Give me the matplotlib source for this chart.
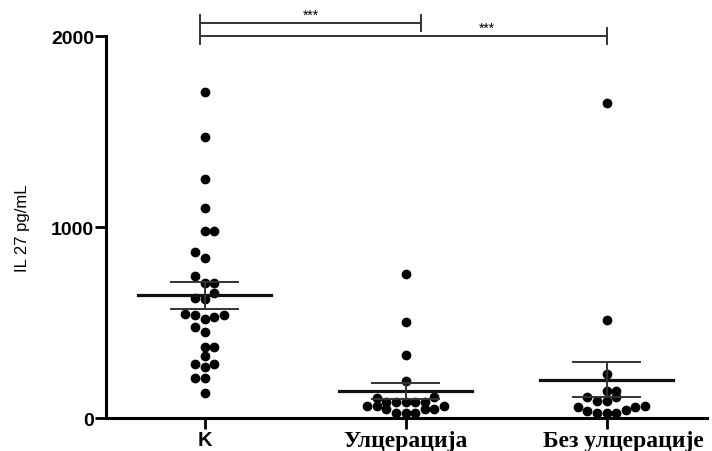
import numpy as np
import matplotlib.pyplot as plt

# категорије и тачке очитане са слике
groups = ["K", "Улцерација", "Без улцерације"]

k_vals = [1705, 1470, 1251, 1098, 981, 981, 867, 838, 745, 705, 705, 653,
          628, 623, 545, 539, 518, 527, 541, 475, 449, 370, 370, 326,
          283, 283, 265, 209, 209, 131]
k_off = [0, 0, 0, 0, 0, 1, -1, 0, -1, 0, 1, 1,
         -1, 0, -2, -1, 0, 1, 2, -1, 0, 0, 1, 0,
         -1, 1, 0, -1, 0, 0]

ulc_vals = [754, 504, 330, 195, 103, 112, 85, 85, 85, 85, 85,
            64, 64, 64, 47, 47, 47, 26, 26, 26]
ulc_off = [0, 0, 0, 0, -3, 3, -2, -1, 0, 1, 2,
           -4, -3, 4, -2, 2, 3, -1, 0, 1]

bez_vals = [1649, 515, 230, 143, 143, 110, 110, 91, 91, 59, 38,
            26, 26, 26, 40, 56, 64]
bez_off = [0, 0, 0, 0, 1, -2, 1, -1, 0, -3, -2,
           -1, 0, 1, 2, 3, 4]

means = [642, 140, 201]
sems = [69, 43, 93]

all_vals = [k_vals, ulc_vals, bez_vals]
all_off = [k_off, ulc_off, bez_off]

fig = plt.figure(figsize=(7.12, 4.52), dpi=100)
ax = fig.add_axes([0.149, 0.073, 0.844, 0.845])

dx = 0.048
for i, (vals, offs) in enumerate(zip(all_vals, all_off)):
    xs = i + np.array(offs) * dx
    ax.plot(xs, vals, 'o', color='black', markersize=6, zorder=3)
    # средња вредност и SEM
    ax.plot([i - 0.33, i + 0.33], [means[i], means[i]], color='#111111', lw=2.3, zorder=4)
    ax.plot([i, i], [means[i] - sems[i], means[i] + sems[i]], color='#333333', lw=1.4, zorder=4)
    for yy in (means[i] - sems[i], means[i] + sems[i]):
        ax.plot([i - 0.165, i + 0.165], [yy, yy], color='#333333', lw=1.4, zorder=4)

ax.set_xlim(-0.49, 2.5)
ax.set_ylim(0, 2000)
ax.set_yticks([0, 1000, 2000])
ax.set_yticklabels(["0", "1000", "2000"], fontweight='bold', fontsize=14,
                   family='Liberation Sans')
ax.set_xticks([0, 1, 2])
# трећа ознака је у оригиналу мало померена удесно, па иде као посебан текст
ax.set_xticklabels([groups[0], groups[1], ""], fontweight='bold', fontsize=17,
                   family='Liberation Serif')
xl = ax.get_xticklabels()
xl[0].set_family('Liberation Sans')
xl[0].set_fontsize(14.5)
ax.annotate(groups[2], xy=(2, 0), xycoords=('data', 'axes fraction'),
            xytext=(12, -8.5), textcoords='offset points', ha='center', va='top',
            fontweight='bold', fontsize=17, family='Liberation Serif',
            annotation_clip=False)
ax.set_ylabel("IL 27 pg/mL", fontsize=12, family='Liberation Sans', labelpad=15)

for s in ['top', 'right']:
    ax.spines[s].set_visible(False)
for s in ['left', 'bottom']:
    ax.spines[s].set_linewidth(2.2)
ax.tick_params(axis='both', width=2, length=8, direction='out', pad=0.5)

# линије значајности
bc = '#333333'
ax.plot([-0.025, 1.075], [2068, 2068], color=bc, lw=1.4, clip_on=False)
ax.plot([-0.025, 2.0], [2000, 2000], color=bc, lw=1.4, clip_on=False)
ax.plot([-0.025, -0.025], [1958, 2110], color=bc, lw=1.4, clip_on=False)
ax.plot([1.075, 1.075], [2026, 2110], color=bc, lw=1.4, clip_on=False)
ax.plot([2.0, 2.0], [1958, 2040], color=bc, lw=1.4, clip_on=False)
ax.text(0.53, 2074, "***", ha='center', va='bottom', fontsize=10, family='Liberation Sans')
ax.text(1.405, 2006, "***", ha='center', va='bottom', fontsize=10, family='Liberation Sans')

fig.savefig("out.png", dpi=100)
